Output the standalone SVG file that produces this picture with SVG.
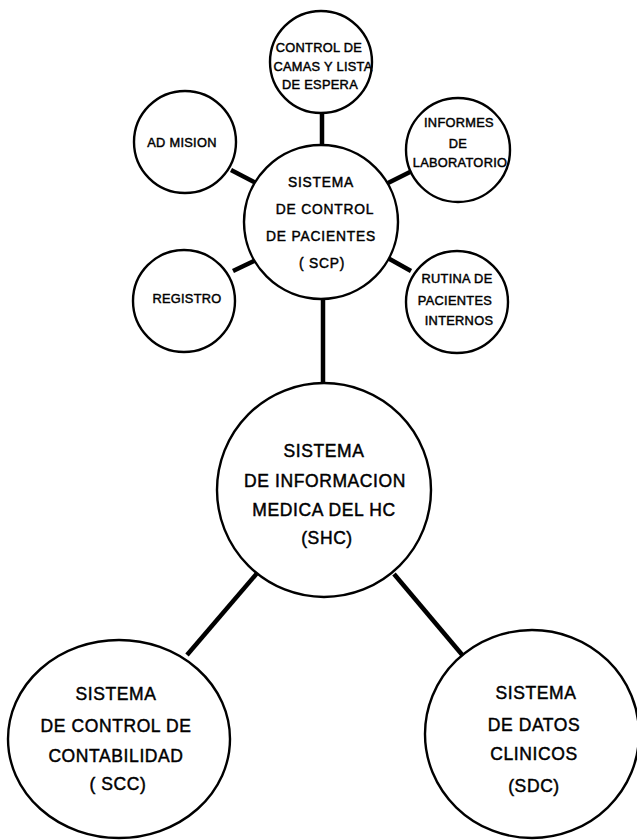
<svg xmlns="http://www.w3.org/2000/svg" width="637" height="840" viewBox="0 0 637 840">
<style>
.n{fill:#fff;stroke:#000;stroke-width:2.4}
.c{stroke:#000;stroke-width:4.5;stroke-linecap:butt}
text{font-family:"Liberation Sans",Arial,sans-serif;fill:#000;text-anchor:middle;stroke:#000;stroke-width:0.45}
.s{font-size:12.8px;letter-spacing:0.3px}
.m{font-size:13.8px;letter-spacing:0.8px}
.l{font-size:17.5px;letter-spacing:0.6px}
</style>
<rect width="637" height="840" fill="#fff"/>
<g id="connectors">
<line class="c" x1="322" y1="112" x2="322" y2="147"/>
<line class="c" x1="231" y1="170" x2="256" y2="183"/>
<line class="c" x1="233" y1="271" x2="256" y2="260"/>
<line class="c" x1="386" y1="184" x2="410" y2="172"/>
<line class="c" x1="386" y1="257" x2="411" y2="271"/>
<line class="c" x1="323" y1="296" x2="323" y2="385"/>
<line class="c" x1="258" y1="572" x2="187" y2="655"/>
<line class="c" x1="394" y1="574" x2="464" y2="657"/>
</g>
<g id="camas">
<circle class="n" cx="321" cy="62" r="51"/>
<text class="s" x="319" y="52">CONTROL DE</text>
<text class="s" x="323" y="71" letter-spacing="-0.3">CAMAS Y LISTA</text>
<text class="s" x="320" y="89">DE ESPERA</text>
</g>
<g id="admision">
<circle class="n" cx="185" cy="142" r="51"/>
<text class="s" x="182" y="147" letter-spacing="1.2">AD MISION</text>
</g>
<g id="informes">
<circle class="n" cx="458" cy="150" r="52"/>
<text class="s" x="459" y="127" letter-spacing="1">INFORMES</text>
<text class="s" x="458" y="148" letter-spacing="4">DE</text>
<text class="s" x="460" y="167" letter-spacing="-0.3">LABORATORIO</text>
</g>
<g id="registro">
<circle class="n" cx="184" cy="301" r="51"/>
<text class="s" x="187" y="303" letter-spacing="0.8">REGISTRO</text>
</g>
<g id="rutina">
<circle class="n" cx="457" cy="302" r="51"/>
<text class="s" x="457" y="283">RUTINA DE</text>
<text class="s" x="455" y="305">PACIENTES</text>
<text class="s" x="459" y="325">INTERNOS</text>
</g>
<g id="scp">
<circle class="n" cx="321" cy="222" r="77"/>
<text class="m" x="321" y="187">SISTEMA</text>
<text class="m" x="325" y="214">DE CONTROL</text>
<text class="m" x="321" y="241">DE PACIENTES</text>
<text class="m" x="322" y="268">( SCP)</text>
</g>
<g id="shc">
<circle class="n" cx="324" cy="490" r="107"/>
<text class="l" x="324" y="457">SISTEMA</text>
<text class="l" x="325" y="487">DE INFORMACION</text>
<text class="l" x="324" y="516">MEDICA DEL HC</text>
<text class="l" x="327" y="544" letter-spacing="2">(SHC)</text>
</g>
<g id="scc">
<ellipse class="n" cx="119" cy="739" rx="111" ry="99"/>
<text class="l" x="116" y="700" font-size="18.5">SISTEMA</text>
<text class="l" x="116" y="732" font-size="18.5" letter-spacing="0">DE CONTROL DE</text>
<text class="l" x="116" y="762" font-size="18.5">CONTABILIDAD</text>
<text class="l" x="118" y="790" font-size="18.5" letter-spacing="1.5">( SCC)</text>
</g>
<g id="sdc">
<ellipse class="n" cx="532" cy="734" rx="107" ry="104"/>
<text class="l" x="536" y="699" font-size="18.5">SISTEMA</text>
<text class="l" x="534" y="731" font-size="18.5">DE DATOS</text>
<text class="l" x="534" y="760" font-size="18.5" letter-spacing="2.5">CLINICOS</text>
<text class="l" x="534" y="792" font-size="18.5" letter-spacing="2">(SDC)</text>
</g>
</svg>
